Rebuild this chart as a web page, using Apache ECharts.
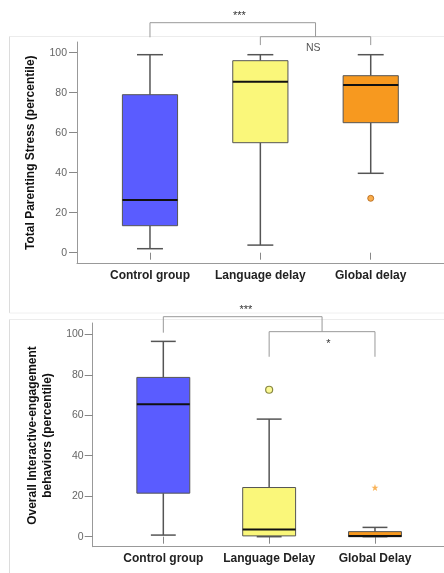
<!DOCTYPE html>
<html><head><meta charset="utf-8">
<script src="https://cdn.jsdelivr.net/npm/echarts@6/dist/echarts.min.js"></script>
<style>html,body{margin:0;padding:0;background:#fff}#c{width:444px;height:573px}</style>
</head><body><div id="c"></div>
<script>
// ---- data ----
const catsTop = ['Control group', 'Language delay', 'Global delay'];
const catsBottom = ['Control group', 'Language Delay', 'Global Delay'];
const yMin = 0, yMax = 100, yStep = 20;
// each box: [min, Q1, median, Q3, max]
const stressBoxes = [
  [2, 13.5, 26.3, 79, 99],
  [3.8, 55, 85.5, 96, 99],
  [39.7, 65, 83.8, 88.5, 99]
];
const stressOutliers = [[2, 27.2]];
const engageBoxes = [
  [0.8, 21.5, 65.5, 78.7, 96.5],
  [0, 0.4, 3.6, 24.3, 58.1],
  [0, 0, 0.4, 2.5, 4.6]
];
const engageOutliers = [[1, 72.6]];
const engageExtremes = [[2, 24.3]];
// significance brackets: [fromCat, toCat, lineY, leftEndY, rightEndY]
const stressBrackets = [[0, 1.5, 115, 107.7, 108], [1, 2, 108, 103.8, 103.8]];
const stressSig = [[0.81, 118.3, '***'], [1.48, 102.3, 'NS']];
const engageBrackets = [[0, 1.5, 108.7, 100.8, 101.3], [1, 2, 101.3, 88.9, 88.9]];
const engageSig = [[0.78, 112.2, '***'], [1.56, 95.3, '*']];

const boxColors = ['#5A5CFF', '#FAF77A', '#F7991F'];
const FONT = "'Liberation Sans', Arial, sans-serif";

function boxRender(params, api) {
  const i = api.value(0);
  const lo = api.coord([i, api.value(1)]);
  const q1 = api.coord([i, api.value(2)]);
  const md = api.coord([i, api.value(3)]);
  const q3 = api.coord([i, api.value(4)]);
  const hi = api.coord([i, api.value(5)]);
  const bw = api.size([1, 0])[0] * 0.5;
  const cw = bw * 0.47;
  const x = lo[0];
  const wl = {stroke: '#555', lineWidth: 1.5};
  return {type: 'group', children: [
    {type: 'line', shape: {x1: x, y1: hi[1], x2: x, y2: q3[1]}, style: wl},
    {type: 'line', shape: {x1: x, y1: q1[1], x2: x, y2: lo[1]}, style: wl},
    {type: 'line', shape: {x1: x - cw / 2, y1: hi[1], x2: x + cw / 2, y2: hi[1]}, style: wl},
    {type: 'line', shape: {x1: x - cw / 2, y1: lo[1], x2: x + cw / 2, y2: lo[1]}, style: wl},
    {type: 'rect', shape: {x: x - bw / 2, y: q3[1], width: bw, height: q1[1] - q3[1]},
      style: {fill: boxColors[params.dataIndex], stroke: '#555', lineWidth: 1}},
    {type: 'line', shape: {x1: x - bw / 2, y1: md[1], x2: x + bw / 2, y2: md[1]}, style: {stroke: '#111', lineWidth: 2}}
  ]};
}
function catX(api, c, y) {
  const f = Math.floor(c), t = c - f;
  const a = api.coord([f, y]);
  if (t === 0) return a[0];
  const b = api.coord([f + 1, y]);
  return a[0] + t * (b[0] - a[0]);
}
function bracketRender(params, api) {
  const c1 = api.value(0), c2 = api.value(1);
  const x1 = catX(api, c1, 0), x2 = catX(api, c2, 0);
  const y = api.coord([0, api.value(2)])[1];
  const e1 = api.coord([0, api.value(3)])[1];
  const e2 = api.coord([0, api.value(4)])[1];
  const st = {stroke: '#999', lineWidth: 1};
  return {type: 'group', children: [
    {type: 'line', shape: {x1: x1, y1: y, x2: x2, y2: y}, style: st},
    {type: 'line', shape: {x1: x1, y1: y, x2: x1, y2: e1}, style: st},
    {type: 'line', shape: {x1: x2, y1: y, x2: x2, y2: e2}, style: st}
  ]};
}
function sigRender(list) {
  return function (params, api) {
    const d = list[params.dataIndex];
    const x = catX(api, d[0], 0);
    const y = api.coord([0, d[1]])[1];
    const isNS = d[2] === 'NS';
    return {type: 'text', x: x, y: y, style: {text: d[2], textAlign: 'center', textVerticalAlign: 'middle',
      fill: isNS ? '#555' : '#333', font: (isNS ? 'normal 10.5px ' : 'normal 11px ') + FONT}};
  };
}

function mainX(grid, cats, offset, margin) {
  return {type: 'category', gridIndex: grid, data: cats, offset: offset,
    axisLine: {show: false}, axisTick: {show: true, alignWithLabel: true, interval: 0, length: 7, lineStyle: {color: '#888'}},
    axisLabel: {interval: 0, hideOverlap: false, fontFamily: FONT, fontWeight: 'bold', fontSize: 12, color: '#222', margin: margin},
    splitLine: {show: false}};
}
function mainY(grid, offset, name, gap, margin) {
  return {type: 'value', gridIndex: grid, min: yMin, max: yMax, interval: yStep, offset: offset,
    axisLine: {show: false}, axisTick: {show: true, length: 8, lineStyle: {color: '#888'}},
    axisLabel: {fontFamily: FONT, fontSize: 10.5, color: '#666', margin: margin},
    splitLine: {show: false},
    name: name, nameLocation: 'middle', nameGap: gap,
    nameTextStyle: {fontFamily: FONT, fontWeight: 'bold', fontSize: 12, color: '#111', lineHeight: 15}};
}
function decoAxis(grid) {
  return {type: 'value', gridIndex: grid, min: 0, max: 1, axisLine: {show: true, onZero: false, lineStyle: {color: '#999', width: 1}},
    axisTick: {show: false}, axisLabel: {show: false}, splitLine: {show: false}};
}

const chart = echarts.init(document.getElementById('c'), null, {renderer: 'canvas'});
chart.setOption({
  animation: false,
  backgroundColor: '#fff',
  grid: [
    {left: 94.8, top: 52.7, width: 331.1, height: 200},
    {left: 77, top: 42, right: 0, height: 221},
    {left: 110.4, top: 334.3, width: 317.5, height: 202.4},
    {left: 92.7, top: 323, right: 0, height: 223.7}
  ],
  xAxis: [mainX(0, catsTop, 10.3, 7), decoAxis(1), mainX(2, catsBottom, 10, 6), decoAxis(3)],
  yAxis: [mainY(0, 17.8, 'Total Parenting Stress (percentile)', 33, 10), decoAxis(1),
          mainY(2, 17.7, 'Overall Interactive-engagement\nbehaviors (percentile)', 35, 9), decoAxis(3)],
  graphic: [
    {type: 'line', shape: {x1: 9.5, y1: 36.5, x2: 444, y2: 36.5}, style: {stroke: '#ececec', lineWidth: 1}, silent: true},
    {type: 'line', shape: {x1: 9.5, y1: 36.5, x2: 9.5, y2: 313}, style: {stroke: '#dcdcdc', lineWidth: 1}, silent: true},
    {type: 'line', shape: {x1: 9.5, y1: 313, x2: 444, y2: 313}, style: {stroke: '#f0f0f0', lineWidth: 1}, silent: true},
    {type: 'line', shape: {x1: 9.5, y1: 319.5, x2: 444, y2: 319.5}, style: {stroke: '#ececec', lineWidth: 1}, silent: true},
    {type: 'line', shape: {x1: 9.5, y1: 319.5, x2: 9.5, y2: 573}, style: {stroke: '#dcdcdc', lineWidth: 1}, silent: true}
  ],
  series: [
    {type: 'custom', xAxisIndex: 0, yAxisIndex: 0, renderItem: boxRender, clip: false,
      data: stressBoxes.map((b, i) => [i].concat(b)), encode: {x: 0, y: [1, 2, 3, 4, 5]}, z: 2},
    {type: 'scatter', xAxisIndex: 0, yAxisIndex: 0, data: stressOutliers, symbol: 'circle', symbolSize: 6,
      itemStyle: {color: '#F7991F', borderColor: '#B06010', borderWidth: 1}, z: 3},
    {type: 'custom', xAxisIndex: 0, yAxisIndex: 0, renderItem: bracketRender, clip: false,
      data: stressBrackets, encode: {x: 0, y: 2}},
    {type: 'custom', xAxisIndex: 0, yAxisIndex: 0, renderItem: sigRender(stressSig), clip: false,
      data: stressSig.map(d => [d[0], d[1]]), encode: {x: 0, y: 1}},

    {type: 'custom', xAxisIndex: 2, yAxisIndex: 2, renderItem: boxRender, clip: false,
      data: engageBoxes.map((b, i) => [i].concat(b)), encode: {x: 0, y: [1, 2, 3, 4, 5]}, z: 2},
    {type: 'scatter', xAxisIndex: 2, yAxisIndex: 2, data: engageOutliers, symbol: 'circle', symbolSize: 7,
      itemStyle: {color: '#FAF77A', borderColor: '#6b6b20', borderWidth: 1.2}, z: 3},
    {type: 'scatter', xAxisIndex: 2, yAxisIndex: 2, data: engageExtremes, symbol: 'path://M0,-10 L2.35,-3.24 L9.51,-3.09 L3.8,1.24 L5.88,8.09 L0,4 L-5.88,8.09 L-3.8,1.24 L-9.51,-3.09 L-2.35,-3.24 Z', symbolSize: 7,
      itemStyle: {color: '#F7A030'}, z: 3},
    {type: 'custom', xAxisIndex: 2, yAxisIndex: 2, renderItem: bracketRender, clip: false,
      data: engageBrackets, encode: {x: 0, y: 2}},
    {type: 'custom', xAxisIndex: 2, yAxisIndex: 2, renderItem: sigRender(engageSig), clip: false,
      data: engageSig.map(d => [d[0], d[1]]), encode: {x: 0, y: 1}}
  ]
});
</script></body></html>
